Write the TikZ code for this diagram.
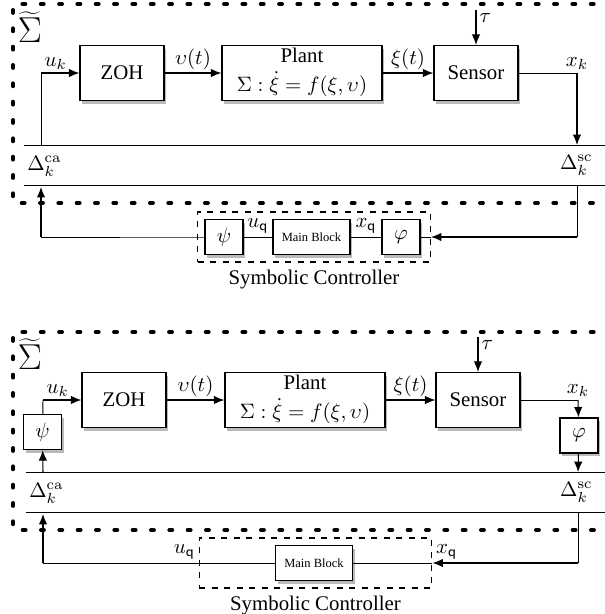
\documentclass[tikz,border=0pt]{standalone}
\usepackage[no-math]{fontspec}
\setmainfont{Liberation Serif}
\usetikzlibrary{arrows.meta,positioning,shadows}
\tikzset{
  blk/.style={draw, fill=white, line width=0.6pt, align=center, inner sep=1pt,
    drop shadow={shadow xshift=1pt, shadow yshift=-1.6pt, opacity=0.45, fill=black!60}},
  big/.style={blk, minimum width=40.3pt, minimum height=26.4pt},
  qz/.style={blk, minimum width=18.2pt, minimum height=16.8pt},
  mainblk/.style={blk, minimum width=37pt, minimum height=16.8pt, font=\fontsize{6}{7}\selectfont},
  ctrl/.style={draw, dashed, line width=0.5pt, minimum width=111.8pt, minimum height=24pt},
  arr/.style={-{Latex[length=5pt,width=4pt]}, line width=0.5pt},
  ln/.style={line width=0.45pt},
  frame/.style={line width=1.9pt, dash pattern=on 1.4pt off 7.4pt, line cap=round},
  lbl/.style={inner sep=1.5pt}
}

\begin{document}
\begin{tikzpicture}[x=0.48pt, y=-0.48pt]
\useasboundingbox (0,0) rectangle (605,614);

% first loop
\draw[frame] (612,4) -- (13,4) -- (13,203) -- (612,203);
\node (sig) at (30,27) {\LARGE$\widetilde{\Sigma}$};
\node[big] (zoh) at (122,73) {ZOH};
\node[big, minimum width=76.8pt] (plant) at (302,73) {};
\node[below=0.5pt of plant.north, inner sep=1pt] (planttxt) {Plant};
\node[above=1pt of plant.south, inner sep=1pt] (plantfx) {$\Sigma:\dot{\xi}=f(\xi,\upsilon)$};
\node[big] (sen) at (476,73) {Sensor};
\coordinate (tau) at (476,10);
\coordinate (xk) at (577,73);
\coordinate (uk) at (41,73);
\coordinate (scin) at (577,145);
\coordinate (caout) at (41,145);
\coordinate (scout) at (577,185);
\coordinate (cain) at (41,187);
\draw[ln] (24,145) -- (612,145);
\draw[ln] (24,185) -- (612,185);
\node[anchor=west] (dca) at (20,166) {$\Delta_k^{\mathrm{ca}}$};
\node[anchor=east] (dsc) at (600,165) {$\Delta_k^{\mathrm{sc}}$};
\node[ctrl] (ctrl) at (314,237) {};
\node[below=0pt of ctrl] (ctrltxt) {Symbolic Controller};
\node[qz] (psi) at (224,237) {$\psi$};
\node[mainblk] (mb) at (311.5,237) {Main Block};
\node[qz] (phi) at (401,237) {$\varphi$};
\coordinate (back) at (577,237);
\coordinate (left) at (41,237);

\draw[arr] (zoh) -- node[above, lbl] {$\upsilon(t)$} (plant);
\draw[arr] (plant) -- node[above, lbl] {$\xi(t)$} (sen);
\draw[arr] (tau) node[below right, lbl] {$\tau$} -- (sen);
\draw[ln] (sen) -- (xk) node[above, lbl] {$x_k$};
\draw[arr] (xk) -- (scin);
\draw[ln] (caout) -- (uk) node[above right, lbl] {$u_k$};
\draw[arr] (uk) -- (zoh);
\draw[ln] (scout) -- (back);
\draw[arr] (back) -- (ctrl.east);
\draw[ln] (ctrl.east) -- (phi);
\draw[ln] (phi) -- node[above, lbl] {$x_{\mathsf{q}}$} (mb);
\draw[ln] (mb) -- node[above, lbl] {$u_{\mathsf{q}}$} (psi);
\draw[ln] (psi) -- (ctrl.west) -- (left);
\draw[arr] (left) -- (cain);

% second loop
\begin{scope}[shift={(0,327)}]
\draw[frame] (612,5) -- (13,5) -- (13,203) -- (612,203);
\node (sig2) at (30,27) {\LARGE$\widetilde{\Sigma}$};
\node[big] (zoh2) at (124,73) {ZOH};
\node[big, minimum width=76.8pt] (plant2) at (305,73) {};
\node[below=0.5pt of plant2.north, inner sep=1pt] (planttxt2) {Plant};
\node[above=1pt of plant2.south, inner sep=1pt] (plantfx2) {$\Sigma:\dot{\xi}=f(\xi,\upsilon)$};
\node[big] (sen2) at (478,73) {Sensor};
\node[qz] (psi2) at (42.5,105) {$\psi$};
\node[qz] (phi2) at (579,108.5) {$\varphi$};
\coordinate (tau2) at (478,10);
\coordinate (xk2) at (578,73);
\coordinate (uk2) at (43,73);
\coordinate (scin2) at (578,145);
\coordinate (caout2) at (43,145);
\coordinate (scout2) at (578,185);
\coordinate (cain2) at (43,187);
\draw[ln] (26,145) -- (612,145);
\draw[ln] (26,185) -- (612,185);
\node[anchor=west] (dca2) at (22,166) {$\Delta_k^{\mathrm{ca}}$};
\node[anchor=east] (dsc2) at (600,165) {$\Delta_k^{\mathrm{sc}}$};
\node[ctrl] (ctrl2) at (315.5,236) {};
\node[below=0pt of ctrl2] (ctrltxt2) {Symbolic Controller};
\node[mainblk] (mb2) at (314,236) {Main Block};
\coordinate (back2) at (578,236);
\coordinate (left2) at (43,236);

\draw[arr] (zoh2) -- node[above, lbl] {$\upsilon(t)$} (plant2);
\draw[arr] (plant2) -- node[above, lbl] {$\xi(t)$} (sen2);
\draw[arr] (tau2) node[below right, lbl] {$\tau$} -- (sen2);
\draw[ln] (sen2) -- (xk2) node[above, lbl] {$x_k$};
\draw[arr] (xk2) -- (phi2);
\draw[arr] (phi2) -- (scin2);
\draw[arr] (caout2) -- (psi2);
\draw[ln] (psi2) -- (uk2) node[above right, lbl] {$u_k$};
\draw[arr] (uk2) -- (zoh2);
\draw[ln] (scout2) -- (back2);
\draw[arr] (back2) -- (ctrl2.east) node[above right, lbl] {$x_{\mathsf{q}}$};
\draw[ln] (ctrl2.east) -- (mb2);
\draw[ln] (mb2) -- (ctrl2.west) node[above left, lbl] {$u_{\mathsf{q}}$};
\draw[ln] (ctrl2.west) -- (left2);
\draw[arr] (left2) -- (cain2);
\end{scope}
\end{tikzpicture}
\end{document}
